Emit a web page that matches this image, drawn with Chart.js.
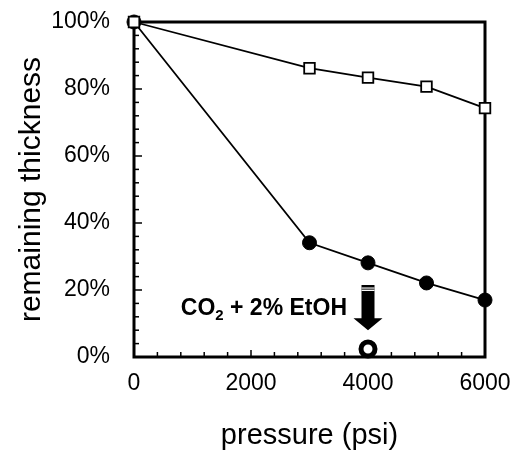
<!DOCTYPE html>
<html>
<head>
<meta charset="utf-8">
<script src="https://cdn.jsdelivr.net/npm/chart.js@4/dist/chart.umd.min.js"></script>
<style>
  html, body { margin: 0; padding: 0; background: #fff; }
  #wrap { width: 514px; height: 453px; }
</style>
</head>
<body>
<div id="wrap"><canvas id="chart" width="514" height="453"></canvas></div>
<script>
// Data
const pressure = [0, 3000, 4000, 5000, 6000];
const squareSeries = [100, 86.2, 83.4, 80.7, 74.3]; // open squares
const circleSeries = [100, 34.1, 28.1, 22.1, 17.0]; // filled circles
const etohPressure = [4000];
const etohSeries = [2.4]; // CO2 + 2% EtOH, open circle
const xTicks = [0, 2000, 4000, 6000];
const yTicks = [0, 20, 40, 60, 80, 100];

const FONT = "'Liberation Sans', Arial, Helvetica, sans-serif";
Chart.defaults.font.family = FONT;
Chart.defaults.color = "#000";

const toPoints = (xs, ys) => xs.map((x, i) => ({ x: x, y: ys[i] }));

// frame + inward ticks
const framePlugin = {
  id: "frame",
  beforeDatasetsDraw(chart) {
    const { ctx, chartArea: a, scales } = chart;
    ctx.save();
    ctx.strokeStyle = "#000";
    ctx.lineWidth = 1.5;
    // x ticks every 400 psi
    for (let v = 0; v <= 6000; v += 400) {
      const px = scales.x.getPixelForValue(v);
      const len = v % 2000 === 0 ? 7 : 5;
      ctx.beginPath();
      ctx.moveTo(px, a.bottom);
      ctx.lineTo(px, a.bottom - len);
      ctx.stroke();
    }
    // y ticks every 4%
    for (let v = 0; v <= 100; v += 4) {
      const py = scales.y.getPixelForValue(v);
      const len = v % 20 === 0 ? 8 : 5;
      ctx.beginPath();
      ctx.moveTo(a.left, py);
      ctx.lineTo(a.left + len, py);
      ctx.stroke();
    }
    ctx.lineWidth = 3;
    ctx.strokeRect(a.left, a.top, a.right - a.left, a.bottom - a.top);
    ctx.restore();
  },
};

// arrow + label for the EtOH point
const annotationPlugin = {
  id: "etohNote",
  afterDatasetsDraw(chart) {
    const { ctx, scales } = chart;
    const x = scales.x.getPixelForValue(etohPressure[0]);
    const yTop = scales.y.getPixelForValue(21.5);
    const yTip = scales.y.getPixelForValue(8);
    const headH = 12;
    ctx.save();
    ctx.fillStyle = "#000";
    ctx.beginPath();
    ctx.moveTo(x - 6.5, yTop);
    ctx.lineTo(x + 6.5, yTop);
    ctx.lineTo(x + 6.5, yTip - headH);
    ctx.lineTo(x + 14.5, yTip - headH);
    ctx.lineTo(x, yTip);
    ctx.lineTo(x - 14.5, yTip - headH);
    ctx.lineTo(x - 6.5, yTip - headH);
    ctx.closePath();
    ctx.fill();
    // light stripes at top of shaft
    ctx.fillStyle = "#fff";
    ctx.fillRect(x - 6.5, yTop + 2.5, 13, 1);
    ctx.fillStyle = "#bbb";
    ctx.fillRect(x - 6.5, yTop + 3.5, 13, 1);
    ctx.fillStyle = "#fff";
    ctx.fillRect(x - 6.5, yTop + 5, 13, 1);

    // label, right aligned to the left of the arrow
    const base = scales.y.getPixelForValue(12.5);
    const right = x - 21;
    ctx.fillStyle = "#000";
    ctx.textBaseline = "alphabetic";
    ctx.textAlign = "left";
    const big = "bold 23px " + FONT;
    const small = "bold 15px " + FONT;
    ctx.font = big;
    const wCO = ctx.measureText("CO").width;
    const wRest = ctx.measureText(" + 2% EtOH").width;
    ctx.font = small;
    const wSub = ctx.measureText("2").width;
    let left = right - (wCO + wSub + wRest);
    ctx.font = big;
    ctx.fillText("CO", left, base);
    ctx.font = small;
    ctx.fillText("2", left + wCO, base + 5);
    ctx.font = big;
    ctx.fillText(" + 2% EtOH", left + wCO + wSub, base);
    ctx.restore();
  },
};

new Chart(document.getElementById("chart"), {
  type: "line",
  data: {
    datasets: [
      {
        label: "squares",
        data: toPoints(pressure, squareSeries),
        borderColor: "#000",
        borderWidth: 1.8,
        pointStyle: "rect",
        pointRadius: 7.5,
        pointBorderWidth: 1.8,
        pointBackgroundColor: "#fff",
        pointBorderColor: "#000",
        tension: 0,
        clip: false,
      },
      {
        label: "circles",
        data: toPoints(pressure, circleSeries),
        borderColor: "#000",
        borderWidth: 1.8,
        pointStyle: "circle",
        pointRadius: 7,
        pointBorderWidth: 1,
        pointBackgroundColor: "#000",
        pointBorderColor: "#000",
        tension: 0,
        clip: false,
      },
      {
        label: "CO2 + 2% EtOH",
        data: toPoints(etohPressure, etohSeries),
        showLine: false,
        pointStyle: "circle",
        pointRadius: 7,
        pointBorderWidth: 5,
        pointBackgroundColor: "#fff",
        pointBorderColor: "#000",
        clip: false,
      },
    ],
  },
  options: {
    responsive: false,
    animation: false,
    layout: { padding: { top: 22, right: 29, left: 0, bottom: 0 } },
    plugins: {
      legend: { display: false },
      tooltip: { enabled: false },
    },
    scales: {
      x: {
        type: "linear",
        min: 0,
        max: 6000,
        afterBuildTicks: (scale) => {
          scale.ticks = xTicks.map((v) => ({ value: v }));
        },
        afterFit: (scale) => {
          scale.height = 96;
          scale.paddingLeft = 0;
          scale.paddingRight = 0;
        },
        grid: { display: false, drawTicks: false },
        border: { display: false },
        ticks: {
          padding: 13,
          maxRotation: 0,
          font: { size: 23 },
          color: "#000",
          callback: (v) => String(v),
        },
        title: {
          display: true,
          text: "pressure (psi)",
          font: { size: 29 },
          color: "#000",
          padding: { top: 0, bottom: 0 },
        },
      },
      y: {
        type: "linear",
        min: 0,
        max: 100,
        afterBuildTicks: (scale) => {
          scale.ticks = yTicks.map((v) => ({ value: v }));
        },
        afterFit: (scale) => {
          scale.width = 134;
          scale.paddingTop = 0;
          scale.paddingBottom = 0;
        },
        grid: { display: false, drawTicks: false },
        border: { display: false },
        ticks: {
          padding: 24,
          font: { size: 23 },
          color: "#000",
          callback: (v) => v + "%",
        },
        title: {
          display: true,
          text: "remaining thickness",
          font: { size: 30 },
          color: "#000",
          padding: { top: 14, bottom: 0 },
        },
      },
    },
  },
  plugins: [framePlugin, annotationPlugin],
});
</script>
</body>
</html>
